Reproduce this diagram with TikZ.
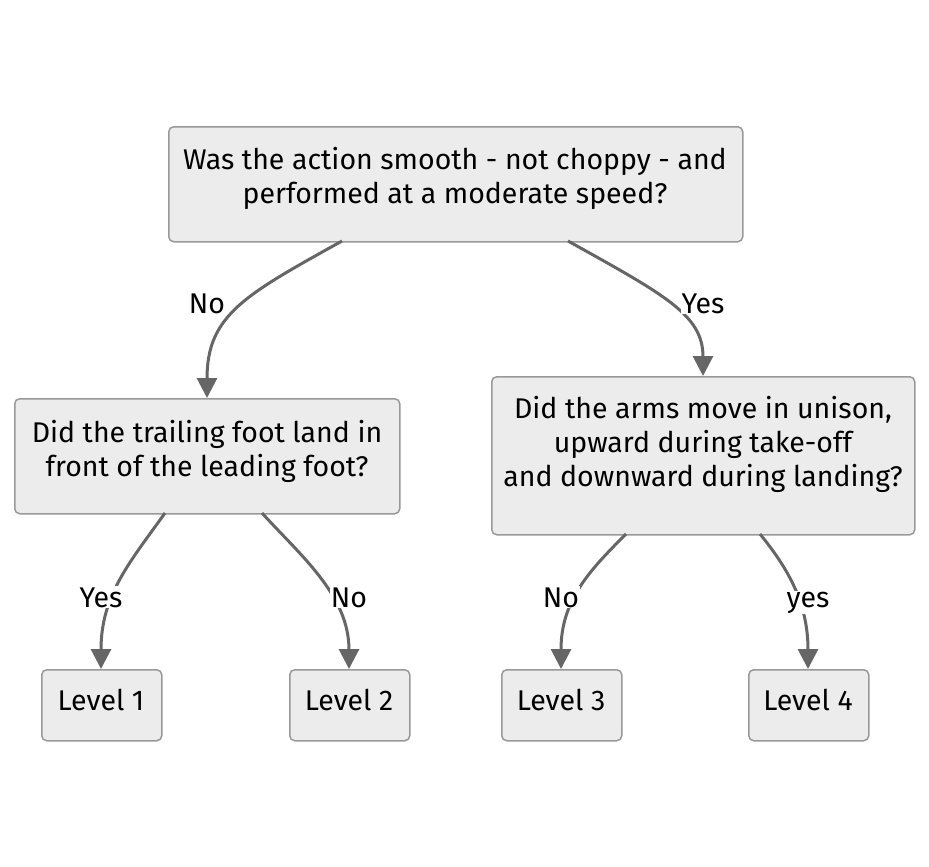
\documentclass[tikz,border=0pt]{standalone}
\usepackage{fontspec}
\setmainfont{Fira Sans}
\usetikzlibrary{arrows.meta}
\definecolor{boxfill}{HTML}{ECECEC}
\definecolor{boxline}{HTML}{999999}
\definecolor{edgeline}{HTML}{666666}
\tikzset{
  box/.style={draw=boxline, fill=boxfill, line width=1.5pt, rounded corners=5pt, inner sep=0pt, anchor=north west},
  txt/.style={font=\fontsize{28.5}{34}\selectfont, align=center, inner sep=0pt, text=black, anchor=base},
  lbl/.style={font=\fontsize{28.5}{34}\selectfont, fill=white, inner sep=1pt, text=black, anchor=base},
  edge/.style={draw=edgeline, line width=3pt, -{Triangle[length=20pt,width=20pt]}}
}
\begin{document}
\begin{tikzpicture}[x=1pt,y=-1pt]
\useasboundingbox (0,0) rectangle (929,867);
% boxes
\node[box, minimum width=574pt, minimum height=115pt] (q1) at (168,126) {};
\node[box, minimum width=385pt, minimum height=115pt] (q2) at (14,398) {};
\node[box, minimum width=423pt, minimum height=158pt] (q3) at (491,376) {};
\node[box, minimum width=120pt, minimum height=71pt] (l1) at (41,669) {};
\node[box, minimum width=120pt, minimum height=71pt] (l2) at (289,669) {};
\node[box, minimum width=120pt, minimum height=71pt] (l3) at (501,669) {};
\node[box, minimum width=120pt, minimum height=71pt] (l4) at (748,669) {};
% texts (base anchor = baseline of the last line)
\node[txt] (t1) at (455,203) {Was the action smooth - not choppy - and\\performed at a moderate speed?};
\node[txt] (t2) at (207,476) {Did the trailing foot land in\\front of the leading foot?};
\node[txt] (t3) at (703,486) {Did the arms move in unison,\\upward during take-off\\and downward during landing?};
\node[txt] (t4) at (101,710) {Level 1};
\node[txt] (t5) at (349,710) {Level 2};
\node[txt] (t6) at (561,710) {Level 3};
\node[txt] (t7) at (808,710) {Level 4};
% edge end points
\coordinate (s1) at (342,241);
\coordinate (s2) at (568,241);
\coordinate (s3) at (165,513);
\coordinate (s4) at (262,513);
\coordinate (s5) at (626,534);
\coordinate (s6) at (760,534);
\coordinate (e1) at (q2.north -| 207,0);
\coordinate (e2) at (q3.north -| 703,0);
\coordinate (e3) at (l1.north -| 101,0);
\coordinate (e4) at (l2.north -| 349,0);
\coordinate (e5) at (l3.north -| 561,0);
\coordinate (e6) at (l4.north -| 808,0);
% edges
\draw[edge] (s1) .. controls (245,295) and (207,315) .. (e1);
\draw[edge] (s2) .. controls (665,295) and (703,315) .. (e2);
\draw[edge] (s3) .. controls (130,562) and (101,595) .. (e3);
\draw[edge] (s4) .. controls (300,555) and (349,595) .. (e4);
\draw[edge] (s5) .. controls (590,570) and (561,600) .. (e5);
\draw[edge] (s6) .. controls (785,565) and (808,600) .. (e6);
% labels
\node[lbl] (n1) at (207,313) {No};
\node[lbl] (n2) at (703,313) {Yes};
\node[lbl] (n3) at (101,607) {Yes};
\node[lbl] (n4) at (349,607) {No};
\node[lbl] (n5) at (561,607) {No};
\node[lbl] (n6) at (808,607) {yes};
\end{tikzpicture}
\end{document}
